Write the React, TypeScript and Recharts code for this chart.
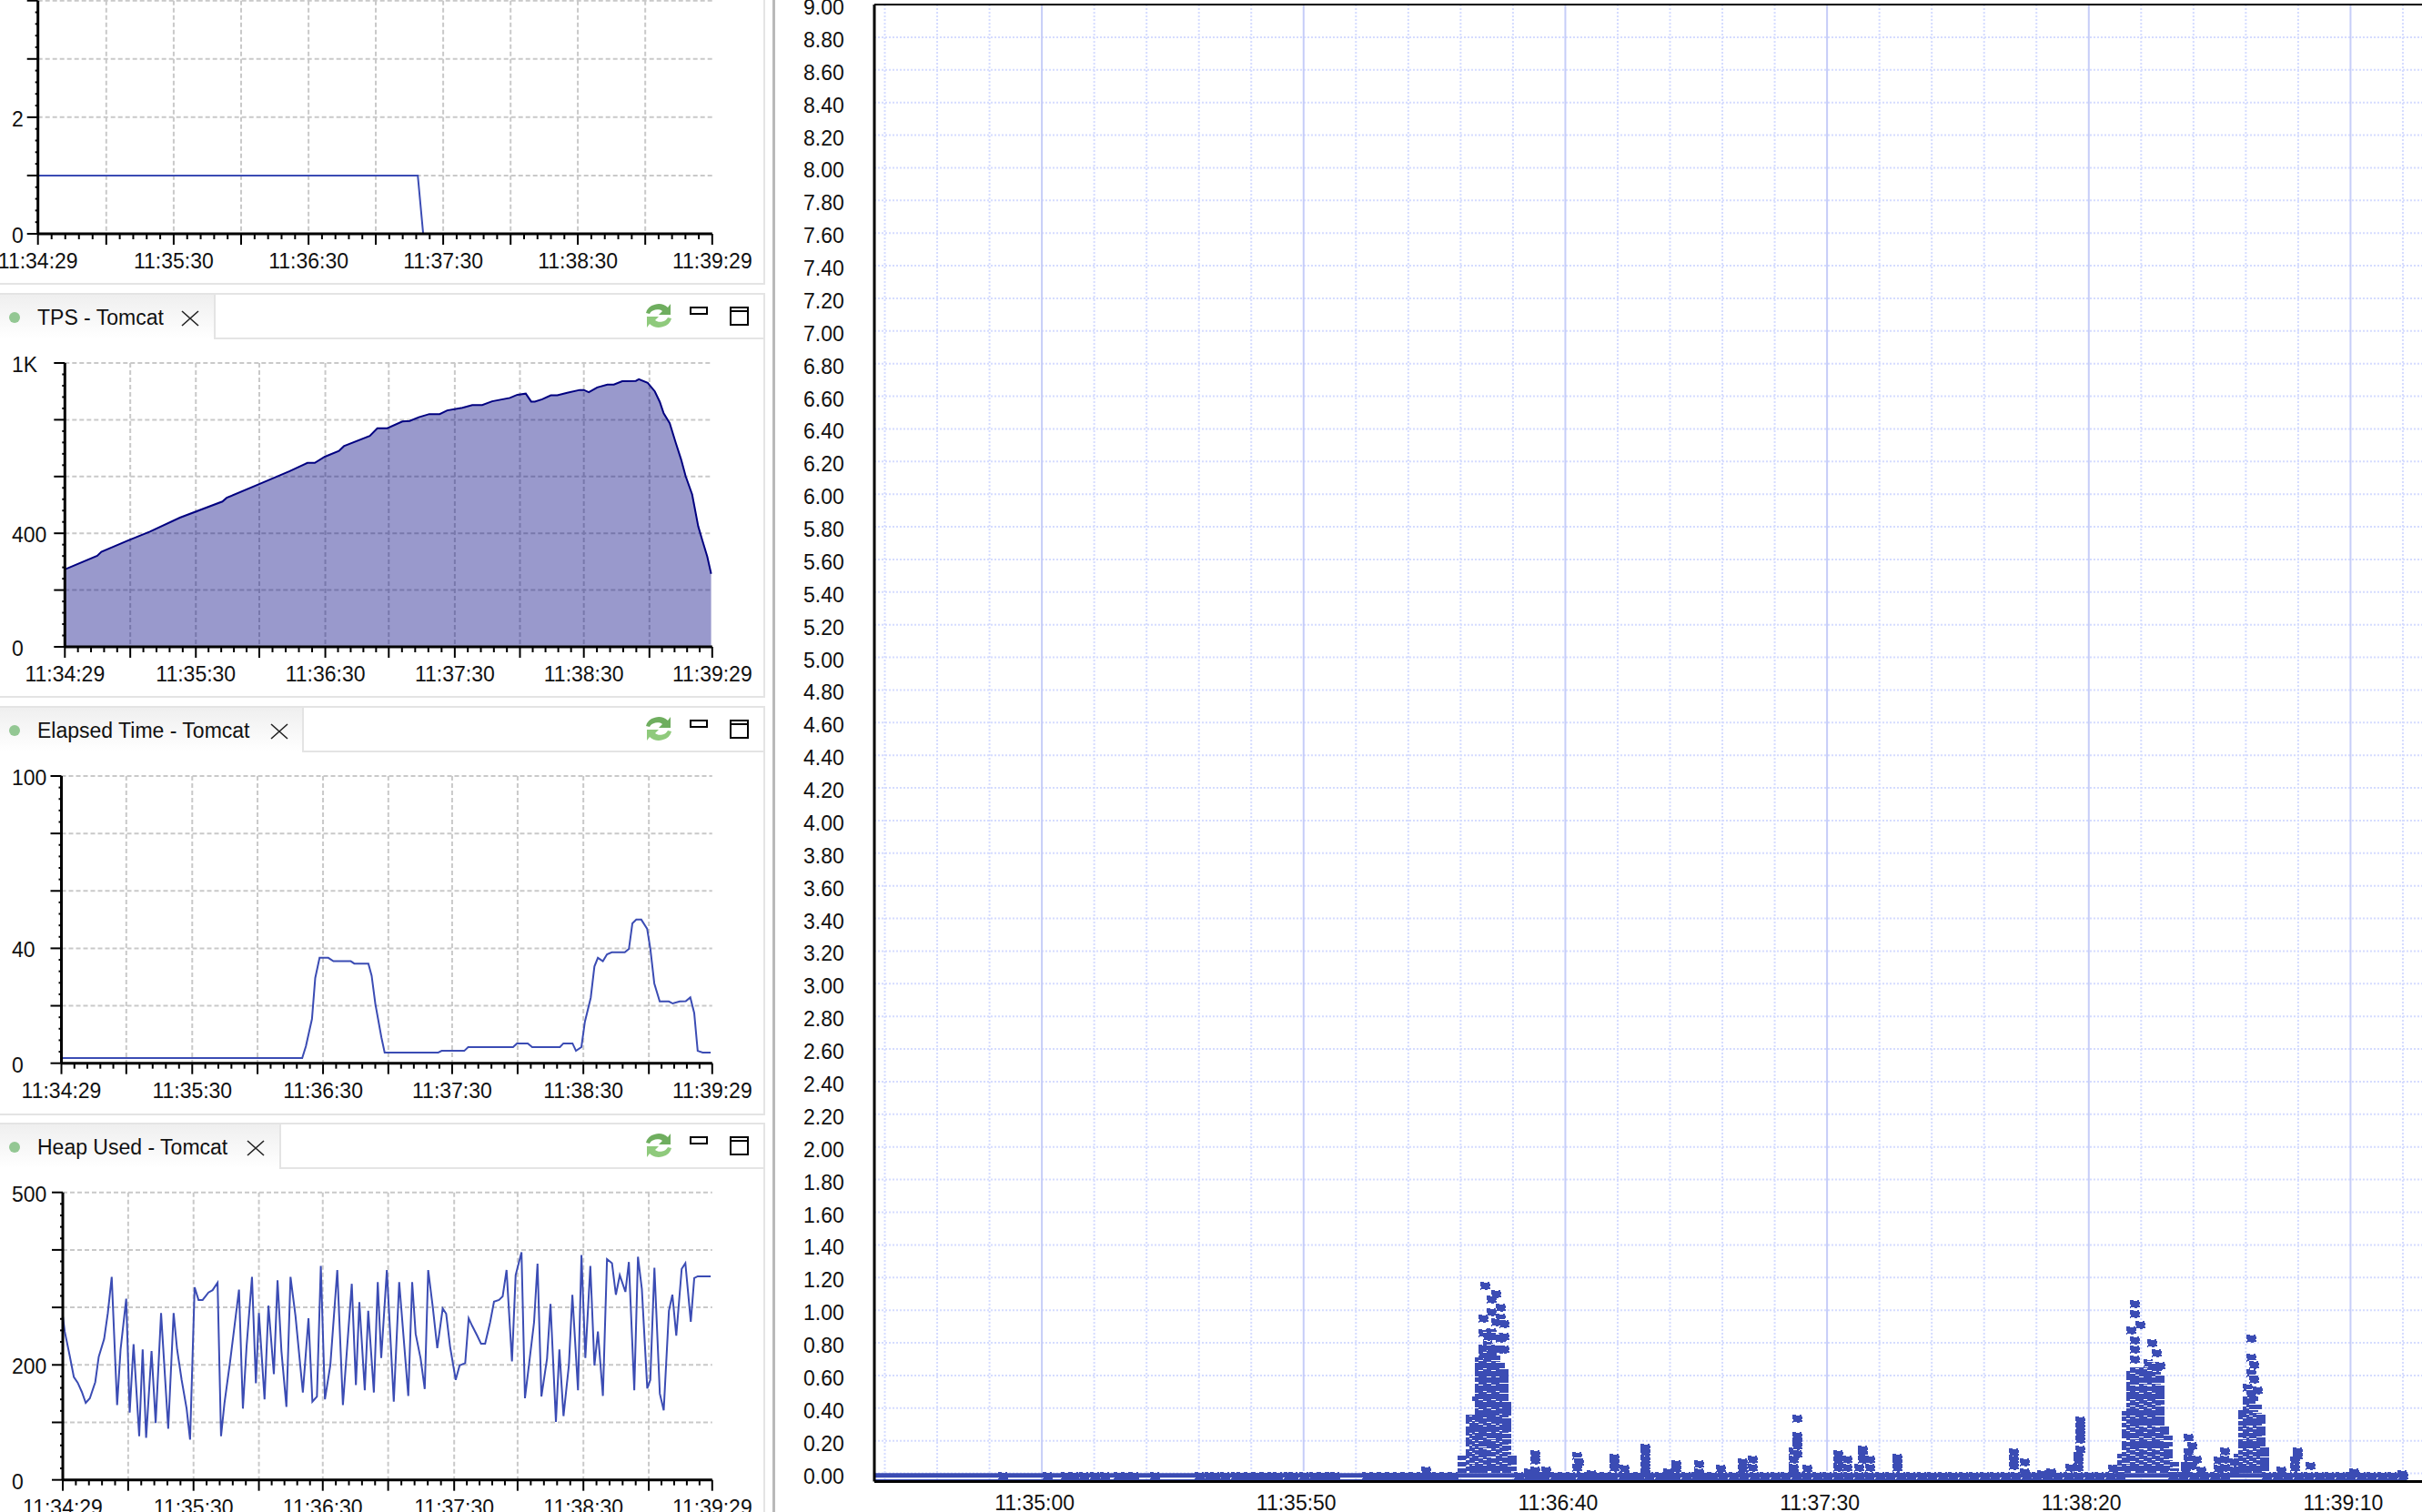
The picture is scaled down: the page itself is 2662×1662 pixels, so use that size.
import { CartesianGrid, ComposedChart, Area, Line, ReferenceLine, Scatter, XAxis, YAxis } from "recharts";

const FONT = "'Liberation Sans', Arial, sans-serif";
const LINE = "#3b4cb4";

const timeLabels = ["11:34:29", "11:35:30", "11:36:30", "11:37:30", "11:38:30", "11:39:29"];

// seconds after 11:34:29 for the vertical grid of each small chart
const activeMajors = [0, 30.4, 60.4, 90.4, 120.4, 150.3, 180.3, 210.3, 240.2, 270.2, 300];
const tpsMajors = [0, 30.3, 60.7, 90.1, 120.7, 150.1, 180.7, 210.9, 240.5, 270.9, 300];
const elapsedMajors = [0, 29.9, 60.3, 90.4, 120.6, 150.7, 180.1, 210.3, 240.6, 270.8, 300];
const heapMajors = [0, 30.2, 60.4, 90.6, 120.1, 150.3, 180.8, 210.1, 240.5, 270.7, 300];

const activeTimes = [0, 169, 171.4];
const activeValues = [1, 1, 0];

const tpsTimes = [0, 15, 16.9, 29, 39.4, 53.3, 73, 75, 90.3, 104.2, 112.4, 115.8, 120.5, 127, 129.3, 141.3, 144.8, 149.4, 156.4, 159.8, 164, 168.9, 173.7, 177.2, 184.2, 188.8, 193.4, 198, 206.2, 209.7, 213.6, 216.1, 217.8, 221.2, 225.2, 228.2, 232.8, 238.6, 240.5, 242.8, 246.7, 251.4, 254.4, 258.3, 264.6, 266, 270.1, 273.4, 275.7, 277.5, 280.3, 283.1, 285.6, 287.7, 290.7, 293.5, 295.4, 297.7, 299.5];
const tpsValues = [273, 321, 335, 374, 406, 455, 512, 525, 574, 619, 648, 648, 670, 690, 707, 743, 770, 770, 794, 796, 809, 820, 820, 833, 842, 852, 852, 865, 877, 888, 892, 864, 864, 872, 886, 886, 895, 905, 905, 897, 914, 924, 924, 936, 937, 943, 930, 900, 863, 823, 788, 719, 660, 601, 537, 425, 376, 318, 257];

const elapsedTimes = [0, 111, 112.7, 115.5, 117, 119, 123, 125.4, 133.4, 135, 141.5, 143, 144.7, 147.5, 149, 173.7, 175.3, 185.7, 187.5, 208.2, 210, 215, 217, 229.8, 231.4, 235.6, 237.2, 239.7, 241.3, 244, 245.7, 247.3, 249.6, 251.5, 253.7, 259.7, 261.6, 263.2, 265, 267.3, 270, 271.5, 273.3, 275.8, 280, 281.8, 285, 287.8, 289.9, 291.7, 293.3, 295.6, 299.3];
const elapsedValues = [1.8, 1.8, 5.9, 15.4, 29.7, 36.7, 36.7, 35.5, 35.5, 34.7, 34.7, 30.5, 20.7, 9, 3.7, 3.7, 4.3, 4.3, 5.6, 5.6, 6.9, 6.9, 5.6, 5.6, 6.9, 6.9, 4.3, 5.6, 14.4, 22.8, 33.7, 36.7, 35.5, 37.9, 38.6, 38.6, 39.8, 48.7, 50, 50, 46.8, 39.7, 27.8, 21.5, 21.5, 20.8, 21.5, 21.6, 22.9, 17.5, 4.3, 3.7, 3.7];

const heapTimes = [0, 0.9, 3.2, 5.1, 6.9, 8.8, 10.6, 12.5, 15, 16.6, 19.1, 20.8, 22.6, 25.1, 26.7, 29.3, 30.9, 32.7, 35.3, 36.9, 38.5, 41, 42.9, 45.4, 48.7, 51.2, 52.8, 54.9, 57.2, 58.8, 60.9, 62.7, 64.6, 67.3, 69.2, 71.5, 73.1, 74.7, 77.3, 81.4, 83.2, 84.9, 87.4, 89.2, 90.6, 93.2, 95, 97.5, 99.2, 101, 103.3, 105.2, 107.5, 110.9, 113.5, 115.3, 117.4, 119.2, 121.1, 123.6, 126.8, 129.4, 133.5, 135.4, 137, 139.5, 141.1, 143.7, 145.5, 147.1, 149.7, 152.9, 155.4, 159.6, 161.4, 163, 165.3, 167.2, 168.8, 170.9, 173, 175.5, 177.1, 178.9, 181.5, 183.3, 185.9, 187.5, 189.1, 191.4, 193.2, 195.1, 197.4, 199.2, 201.5, 203.2, 205, 207.5, 209.2, 211.9, 213.5, 217.7, 219.3, 221.1, 223.7, 225.3, 227.8, 229.4, 231.3, 233.8, 235.4, 238, 239.6, 241.4, 243.7, 245.6, 247.2, 249.5, 251.4, 253.7, 255.5, 257.3, 259.9, 261.5, 264, 265.7, 267.5, 270, 271.4, 273.3, 275.8, 277.6, 280, 281.6, 283.4, 285.9, 287.6, 290.1, 291.7, 293.3, 299.3];
const heapValues = [285, 258, 216, 179, 169, 153, 134, 142, 170, 214, 245, 290, 353, 130, 227, 315, 117, 236, 76, 227, 73, 224, 99, 290, 89, 290, 227, 174, 124, 70, 335, 313, 313, 326, 330, 343, 76, 134, 206, 331, 124, 232, 353, 168, 290, 140, 303, 184, 347, 224, 127, 353, 285, 152, 281, 136, 145, 372, 140, 200, 365, 130, 341, 165, 309, 156, 294, 152, 344, 212, 365, 136, 344, 146, 344, 254, 211, 158, 365, 301, 229, 298, 289, 232, 174, 199, 203, 281, 268, 251, 237, 237, 274, 310, 313, 319, 365, 206, 356, 396, 142, 274, 376, 145, 211, 306, 101, 227, 111, 200, 322, 156, 391, 212, 372, 199, 258, 146, 384, 377, 322, 356, 327, 379, 156, 388, 332, 159, 174, 369, 150, 121, 294, 322, 251, 367, 377, 275, 351, 354, 354];

const responseLabels = ["9.00", "8.80", "8.60", "8.40", "8.20", "8.00", "7.80", "7.60", "7.40", "7.20", "7.00", "6.80", "6.60", "6.40", "6.20", "6.00", "5.80", "5.60", "5.40", "5.20", "5.00", "4.80", "4.60", "4.40", "4.20", "4.00", "3.80", "3.60", "3.40", "3.20", "3.00", "2.80", "2.60", "2.40", "2.20", "2.00", "1.80", "1.60", "1.40", "1.20", "1.00", "0.80", "0.60", "0.40", "0.20", "0.00"];
const responseTimeLabels = ["11:35:00", "11:35:50", "11:36:40", "11:37:30", "11:38:20", "11:39:10"];
// seconds after 11:34:28 for the big chart
const responseMajors = [32, 82, 132, 182, 232, 282];
const responseMinors = [2, 12, 22, 42, 52, 62, 72, 92, 102, 112, 122, 142, 152, 162, 172, 192, 202, 212, 222, 242, 252, 262, 272, 292];

const bandTimes = [0, 292.8];
const bandValues = [-0.012, -0.012];
const edgeValues = [-0.042, -0.042];

// transactions sitting on the zero row, seconds
const zeroRowTimes = [24.5, 33, 36.5, 38, 40, 42, 44, 46.5, 48, 49.5, 53.5, 62, 64, 65, 67, 69, 70, 71.5, 73, 74.5, 76, 77, 79, 80, 82, 84, 85.5, 87, 88, 94, 95.5, 97, 98.5, 100, 101.5, 103, 104.5, 106, 107.5, 109, 110.5, 123, 125, 126.5, 128, 130, 131.5, 133, 135, 136.5, 138, 139.5, 141, 143, 144.5, 146, 148, 150, 151.5, 153, 155, 157, 158.5, 160, 162, 164, 166, 168, 170, 172, 174, 176, 178, 180, 182, 184, 186, 188, 190, 192, 194, 196, 198, 200, 202, 204, 206, 208, 210, 212, 214, 216, 218, 220, 222, 224, 226, 228, 230, 232, 234, 236, 238, 248, 250, 252, 254, 256, 258, 266, 268, 270, 272, 274, 276, 278, 280, 282, 284, 286, 288, 290, 292];

// [second, values in hundredths]
const burstA: [number, number[]][] = [
  [112.2, [3, 7, 11]],
  [113.9, [4, 8, 12, 15, 19, 22, 26, 29, 33, 36]],
  [114.5, [3, 6, 10, 13, 17, 21, 24, 28, 31, 35]],
  [115, [5, 9, 12, 16, 20, 23, 27, 30, 32, 36, 47]],
  [115.6, [4, 7, 11, 14, 18, 22, 25, 28, 31, 35, 37, 40, 43, 46, 49, 52, 55, 59, 62, 65, 68, 71]],
  [116.3, [3, 6, 9, 13, 16, 20, 24, 27, 30, 33, 36, 39, 42, 45, 48, 51, 54, 57, 60, 63, 66, 69, 72, 75, 78, 87, 96]],
  [116.6, [116]],
  [117.1, [5, 8, 12, 15, 19, 22, 26, 29, 32, 34, 38, 41, 44, 47, 50, 53, 56, 58, 61, 64, 67, 70, 73, 80, 85]],
  [117.9, [4, 7, 10, 14, 18, 21, 25, 28, 31, 35, 37, 40, 43, 46, 49, 52, 55, 59, 62, 65, 68, 71, 74, 77, 88, 100, 108]],
  [118.8, [3, 6, 9, 13, 17, 20, 24, 27, 30, 33, 36, 39, 42, 45, 48, 51, 54, 57, 60, 63, 66, 69, 72, 78, 85, 94, 111]],
  [119.6, [5, 8, 11, 15, 18, 22, 25, 29, 32, 35, 38, 41, 44, 47, 50, 53, 56, 59, 62, 65, 68, 77, 84, 97, 103]],
  [120.3, [4, 7, 12, 16, 19, 23, 26, 30, 33, 36, 40, 43, 46, 49, 52, 55, 58, 61, 64, 77, 85, 93]],
  [120.8, [3, 6, 10, 13, 17, 21, 24, 28, 31, 34, 38, 41, 44]],
  [121.8, [4, 8, 11]],
];

const burstB: [number, number[]][] = [
  [237.4, [3, 6]],
  [238.3, [4, 8, 12]],
  [239.2, [3, 6, 10, 13, 17, 20, 24, 27, 31, 35, 38]],
  [240, [5, 9, 12, 16, 19, 23, 26, 30, 33, 37, 40, 43, 47, 50, 53, 56, 60, 63, 89]],
  [240.8, [4, 7, 11, 14, 18, 21, 25, 28, 32, 35, 38, 41, 45, 48, 51, 54, 58, 61, 65, 71, 77, 83, 99, 105]],
  [241.7, [3, 6, 10, 13, 17, 20, 24, 27, 31, 34, 37, 40, 44, 47, 50, 53, 57, 60, 64, 92]],
  [242.5, [5, 8, 12, 15, 19, 22, 26, 29, 33, 36, 39, 42, 46, 49, 52, 55, 59, 62, 65]],
  [243.3, [4, 7, 11, 14, 18, 21, 25, 28, 32, 35, 38, 41, 45, 48, 51, 54, 58, 61, 64, 69]],
  [244.1, [3, 6, 10, 13, 17, 20, 24, 27, 31, 34, 37, 40, 44, 47, 50, 53, 57, 60, 63, 67, 81]],
  [244.9, [5, 8, 12, 15, 19, 22, 26, 29, 33, 36, 39, 42, 46, 49, 52, 55, 59, 62, 66, 75]],
  [245.6, [4, 7, 11, 14, 18, 21, 25, 28, 32, 35, 38, 41, 45, 48, 51, 54, 58, 60, 67]],
  [246.4, [3, 6, 10, 13, 17, 20, 24, 27, 29]],
  [247.2, [5, 8, 12, 15, 19, 23]],
  [248.4, [3, 7]],
];

const burstC: [number, number[]][] = [
  [260.6, [3, 6, 9, 12]],
  [261.4, [4, 7, 11, 14, 18, 21, 25, 29, 32, 36, 39]],
  [262.2, [3, 6, 10, 13, 17, 20, 24, 27, 31, 34, 38, 41, 45, 47, 54]],
  [262.9, [5, 8, 12, 15, 19, 22, 26, 29, 33, 36, 40, 43, 46, 50, 63, 72, 84]],
  [263.5, [4, 7, 11, 14, 18, 21, 25, 28, 32, 35, 39, 42, 47, 59, 68]],
  [264.2, [3, 6, 10, 13, 17, 20, 24, 27, 31, 34, 37, 42, 52]],
  [264.9, [5, 8, 12, 15, 19, 22, 26, 29, 33, 36]],
  [265.6, [4, 7, 10, 13, 16]],
];

const smallBursts: [number, number[]][] = [
  [105.3, [3]], [125, [2]], [126.2, [3, 9, 13]], [128.3, [3]], [134.1, [5, 12]], [134.6, [8]], [137, [1]],
  [141.3, [5, 8, 11]], [143.2, [4]], [147.3, [2, 6, 10, 14, 17]], [151.6, [2]], [153.2, [4, 7]], [157.4, [2, 7]],
  [161.6, [4]], [165.9, [4, 8]], [167.8, [5, 10]], [175.6, [2, 5, 10, 15]], [176.2, [13, 18, 21, 24, 35]],
  [178.2, [4]], [184.1, [5, 9, 13]], [185.8, [5, 10]], [188, [5]], [188.8, [10, 13, 16]], [190.1, [5, 10]],
  [195.4, [5, 8, 11]], [217.6, [6, 10, 14]], [219.7, [2, 8]], [223, [1]], [224.7, [2]], [228.4, [5]],
  [229.9, [5, 9, 12]], [230.3, [16, 22, 26, 30, 34]], [236.6, [4]], [250.4, [3, 6]], [250.9, [10, 14, 23]],
  [251.6, [6, 18]], [252.5, [10]], [253.4, [3]], [256.7, [4, 9]], [258, [5, 10, 15]], [259.7, [3, 8]],
  [268.8, [3]], [271.4, [5, 9]], [271.9, [12, 15]], [274.3, [6]], [282.6, [2]], [291.9, [1]],
];

// below these values (hundredths) the marks of a burst overlap into stripes
const stripeTopA = 73;
const stripeTopB = 66;
const stripeTopC = 50;

type XY = { t: number; v: number };
type Cols = [number, number[]][];
const series = (ts: number[], vs: number[]): XY[] => ts.map((t, i) => ({ t, v: vs[i] }));
const columns = (cols: Cols, from = 0, to = 1000): XY[] =>
  cols.flatMap(([t, vs]) => vs.filter((v) => v >= from && v < to).map((v) => ({ t, v: v / 100 })));

const stripedPoints: XY[] = [
  ...columns(burstA, 0, stripeTopA),
  ...columns(burstB, 0, stripeTopB),
  ...columns(burstC, 0, stripeTopC),
];
const solidPoints: XY[] = [
  ...zeroRowTimes.map((t) => ({ t, v: 0 })),
  ...columns(smallBursts),
  ...columns(burstA, stripeTopA),
  ...columns(burstB, stripeTopB),
  ...columns(burstC, stripeTopC),
];

function withMinors(majors: number[]): number[] {
  const out: number[] = [];
  majors.forEach((m, i) => {
    out.push(m);
    if (i < majors.length - 1) for (let k = 1; k < 5; k++) out.push(m + ((majors[i + 1] - m) * k) / 5);
  });
  return out;
}

function PinMark(props: any) {
  const x = Math.round(props.cx ?? props.x + (props.width ?? 0) / 2);
  const y = Math.round((props.cy ?? props.y + (props.height ?? 0) / 2) + 2);
  return (
    <g shapeRendering="crispEdges">
      <rect x={x - 5} y={y - 5} width={10} height={1} fill="#fff" />
      <path d={`M${x - 5} ${y - 4}h4v1h4v-1h2v2h1v3h-1v1h1v2h-3v1h-3v-1h-4v1h-1v-2h1v-2h-1z`} fill={LINE} />
    </g>
  );
}

function DashMark(props: any) {
  const x = Math.round(props.cx ?? props.x + (props.width ?? 0) / 2);
  const y = Math.round((props.cy ?? props.y + (props.height ?? 0) / 2) + 2);
  return (
    <g shapeRendering="crispEdges">
      <rect x={x - 5} y={y - 3} width={10} height={1} fill="#fff" />
      <rect x={x - 5} y={y - 2} width={10} height={5} fill={LINE} />
    </g>
  );
}

type PanelProps = {
  top: number;
  plotTop: number;
  zeroY: number;
  x0: number;
  yMax: number;
  yStep: number;
  yLabels: Record<number, string>;
  majors: number[];
  data: XY[];
  area?: boolean;
};

function Panel({ top, plotTop, zeroY, x0, yMax, yStep, yLabels, majors, data, area }: PanelProps) {
  const minorTicks = withMinors(majors);
  const yMajors: number[] = [];
  for (let v = 0; v <= yMax + 1e-6; v += yStep) yMajors.push(v);
  const yTicks = withMinors(yMajors);
  const axisY = zeroY - top;
  return (
    <div style={{ position: "absolute", left: 0, top }}>
      <ComposedChart
        width={860}
        height={zeroY - top + 44}
        data={data}
        margin={{ top: plotTop - top, right: 860 - 782.8, left: 0, bottom: 0 }}
      >
        <CartesianGrid
          stroke="#c9c9c9"
          strokeWidth={2}
          strokeDasharray="5 3"
          horizontalValues={yMajors.filter((v) => v > 0)}
          verticalValues={majors.slice(1, -1)}
        />
        <XAxis
          dataKey="t"
          type="number"
          domain={[0, 300]}
          ticks={minorTicks}
          interval={0}
          height={44}
          axisLine={{ stroke: "#000", strokeWidth: 3 }}
          tickLine={false}
          tick={(p: any) => {
            const i = majors.indexOf(p.payload.value);
            const isMajor = i >= 0;
            return (
              <g>
                <line x1={p.x} x2={p.x} y1={axisY} y2={axisY + (isMajor ? 12 : 6)} stroke="#000" strokeWidth={2} />
                {isMajor && i % 2 === 0 ? (
                  <text x={p.x} y={axisY + 38} textAnchor="middle" fontFamily={FONT} fontSize={23} fill="#111">
                    {timeLabels[i / 2]}
                  </text>
                ) : null}
              </g>
            );
          }}
        />
        <YAxis
          type="number"
          domain={[0, yMax]}
          ticks={yTicks}
          interval={0}
          width={x0}
          axisLine={{ stroke: "#000", strokeWidth: 3 }}
          tickLine={false}
          tick={(p: any) => {
            const v = p.payload.value;
            const isMajor = yMajors.some((m) => Math.abs(m - v) < 1e-6);
            return (
              <g>
                <line x1={x0 - (isMajor ? 12 : 3)} x2={x0} y1={p.y} y2={p.y} stroke="#000" strokeWidth={2} />
                {yLabels[v] ? (
                  <text x={13} y={p.y + 10} textAnchor="start" fontFamily={FONT} fontSize={23} fill="#111">
                    {yLabels[v]}
                  </text>
                ) : null}
              </g>
            );
          }}
        />
        {area ? (
          <Area
            dataKey="v"
            type="linear"
            stroke="#000080"
            strokeWidth={2}
            fill="#000080"
            fillOpacity={0.4}
            dot={false}
            isAnimationActive={false}
          />
        ) : (
          <Line dataKey="v" type="linear" stroke={LINE} strokeWidth={2} dot={false} isAnimationActive={false} />
        )}
      </ComposedChart>
    </div>
  );
}

function Chrome({ top, bottom, tabRight, title, closeX }: { top: number; bottom: number; tabRight: number; title: string; closeX: number }) {
  const border = "2px solid #e4e4e4";
  return (
    <>
      <div style={{ position: "absolute", left: 0, top, width: 841, height: bottom - top, borderTop: border, borderBottom: border, borderRight: border, boxSizing: "border-box" }} />
      <div style={{ position: "absolute", left: 0, top: top + 2, width: tabRight, height: 48, background: "linear-gradient(#efefef, #ffffff)", borderRight: border }} />
      <div style={{ position: "absolute", left: tabRight, top: top + 49, width: 841 - tabRight, height: 2, background: "#e4e4e4" }} />
      <svg style={{ position: "absolute", left: 0, top }} width={841} height={50}>
        <circle cx={16} cy={27} r={6} fill="#93c793" />
        <text x={41} y={35} fontFamily={FONT} fontSize={23} fill="#111">{title}</text>
        <path d={`M${closeX - 9} 20L${closeX + 9} 36M${closeX + 9} 20L${closeX - 9} 36`} stroke="#222" strokeWidth={1.6} fill="none" />
        <path d="M710 22a14 12 0 0 1 24 -6l3 -4v12h-13l4 -4a9 8 0 0 0 -14 3z" fill="#6fae5f" />
        <path d="M738 28a14 12 0 0 1 -24 6l-3 4v-12h13l-4 4a9 8 0 0 0 14 -3z" fill="#8fca7c" />
        <rect x={759} y={16} width={18} height={7} fill="none" stroke="#000" strokeWidth={2} />
        <rect x={803} y={16} width={19} height={19} fill="none" stroke="#000" strokeWidth={2} />
        <line x1={803} x2={822} y1={20} y2={20} stroke="#000" strokeWidth={2} />
      </svg>
    </>
  );
}

function ResponseChart() {
  return (
    <div style={{ position: "absolute", left: 850, top: 0 }}>
      <ComposedChart width={1837} height={1662} margin={{ top: 5, right: 0, left: 0, bottom: 0 }}>
        <CartesianGrid
          stroke="#d5dcff"
          strokeWidth={2}
          strokeDasharray="2 2"
          horizontalValues={responseLabels.map(Number).filter((v) => v < 9)}
          verticalValues={responseMinors}
        />
        <CartesianGrid stroke="#c6cdf8" strokeWidth={2} horizontal={false} verticalValues={responseMajors} />
        <XAxis
          dataKey="t"
          type="number"
          domain={[0, 300]}
          ticks={responseMajors}
          interval={0}
          height={33.5}
          axisLine={{ stroke: "#000", strokeWidth: 3 }}
          tickLine={false}
          tick={(p: any) => (
            <text x={p.x - 8} y={1660} textAnchor="middle" fontFamily={FONT} fontSize={23} fill="#111">
              {responseTimeLabels[responseMajors.indexOf(p.payload.value)]}
            </text>
          )}
        />
        <YAxis
          dataKey="v"
          type="number"
          domain={[-0.05, 9]}
          allowDataOverflow
          ticks={responseLabels.map(Number)}
          interval={0}
          width={111}
          axisLine={{ stroke: "#000", strokeWidth: 3 }}
          tickLine={false}
          tick={(p: any) => (
            <text x={33} y={p.y + 11} textAnchor="start" fontFamily={FONT} fontSize={23} fill="#111">
              {p.payload.value.toFixed(2)}
            </text>
          )}
        />
        <ReferenceLine y={9} stroke="#000" strokeWidth={2} />
        <Line data={series(bandTimes, bandValues)} dataKey="v" stroke={LINE} strokeWidth={5} dot={false} isAnimationActive={false} />
        <Line data={series(bandTimes, edgeValues)} dataKey="v" stroke={LINE} strokeWidth={2} dot={false} isAnimationActive={false} />
        <Scatter data={stripedPoints} dataKey="v" shape={DashMark} isAnimationActive={false} />
        <Scatter data={solidPoints} dataKey="v" shape={PinMark} isAnimationActive={false} />
      </ComposedChart>
    </div>
  );
}

export default function App() {
  return (
    <div style={{ position: "absolute", left: 0, top: 0, width: 2662, height: 1662, overflow: "hidden", background: "#fff" }}>
      <div style={{ position: "absolute", left: 0, top: -10, width: 841, height: 323, borderRight: "2px solid #e4e4e4", borderBottom: "2px solid #e4e4e4", boxSizing: "border-box" }} />
      <Chrome top={322} bottom={767} tabRight={235} title="TPS - Tomcat" closeX={209} />
      <Chrome top={776} bottom={1226} tabRight={332} title="Elapsed Time - Tomcat" closeX={307} />
      <Chrome top={1234} bottom={1700} tabRight={307} title="Heap Used - Tomcat" closeX={281} />
      <div style={{ position: "absolute", left: 849, top: 0, width: 3, height: 1662, background: "#b9b9b9" }} />

      <Panel top={-20} plotTop={0.7} zeroY={257} x0={41.7} yMax={4} yStep={1} yLabels={{ 2: "2", 0: "0" }} majors={activeMajors} data={series(activeTimes, activeValues)} />
      <Panel top={380} plotTop={399} zeroY={711} x0={71.3} yMax={1000} yStep={200} yLabels={{ 1000: "1K", 400: "400", 0: "0" }} majors={tpsMajors} data={series(tpsTimes, tpsValues)} area />
      <Panel top={835} plotTop={853} zeroY={1168.7} x0={67.5} yMax={100} yStep={20} yLabels={{ 100: "100", 40: "40", 0: "0" }} majors={elapsedMajors} data={series(elapsedTimes, elapsedValues)} />
      <Panel top={1290} plotTop={1310.7} zeroY={1626.7} x0={69} yMax={500} yStep={100} yLabels={{ 500: "500", 200: "200", 0: "0" }} majors={heapMajors} data={series(heapTimes, heapValues)} />

      <ResponseChart />
    </div>
  );
}
